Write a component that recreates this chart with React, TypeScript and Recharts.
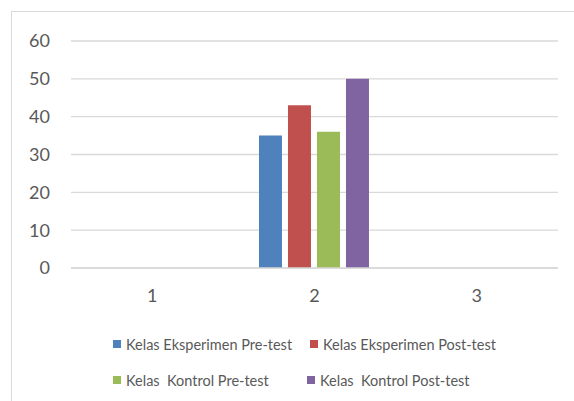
import { BarChart, Bar, XAxis, YAxis, CartesianGrid, Legend } from 'recharts'

const categories = ['1', '2', '3']
const eksperimenPre = [null, 35, null]
const eksperimenPost = [null, 43, null]
const kontrolPre = [null, 36, null]
const kontrolPost = [null, 50, null]
const yTicks = [0, 10, 20, 30, 40, 50, 60]

const seriesNames = [
  'Kelas Eksperimen Pre-test',
  'Kelas Eksperimen Post-test',
  'Kelas  Kontrol Pre-test',
  'Kelas  Kontrol Post-test',
]
const colors = ['#4F81BD', '#C0504D', '#9BBB59', '#8064A2']

const data = categories.map((c, i) => ({
  name: c,
  s0: eksperimenPre[i],
  s1: eksperimenPost[i],
  s2: kontrolPre[i],
  s3: kontrolPost[i],
}))

const FONT = 'Lato, "Open Sans", sans-serif'

function LegendBox() {
  const cols = [113, 310]
  const rows = [344, 380]
  return (
    <div style={{ position: 'relative', width: 574, height: 60 }}>
      {seriesNames.map((name, i) => {
        const left = cols[i % 2] - (i === 3 ? 3 : 0)
        const top = rows[Math.floor(i / 2)] - 330
        return (
          <div
            key={name}
            style={{
              position: 'absolute',
              left,
              top: top - 10,
              height: 20,
              display: 'flex',
              alignItems: 'center',
              whiteSpace: 'pre',
              fontFamily: FONT,
              fontSize: 14.5,
              color: '#595959',
            }}
          >
            <span style={{ width: 8, height: 8, background: colors[i], marginRight: 5 }} />
            {name}
          </div>
        )
      })}
    </div>
  )
}

export default function App() {
  return (
    <div style={{ position: 'absolute', left: 0, top: 0, width: 574, height: 401, overflow: 'hidden', background: '#fff' }}>
      <div
        style={{
          position: 'absolute',
          left: 11,
          top: 11,
          width: 620,
          height: 440,
          border: '1px solid #D9D9D9',
        }}
      />
      <BarChart
        width={574}
        height={401}
        data={data}
        margin={{ top: 41, right: 16, left: 0, bottom: 103 }}
        barCategoryGap="15.8%"
        barGap={6}
      >
        <CartesianGrid vertical={false} stroke="#D9D9D9" strokeWidth={1.3} />
        <XAxis
          dataKey="name"
          height={30}
          axisLine={{ stroke: '#D9D9D9', strokeWidth: 1.3 }}
          tickLine={false}
          tickSize={0}
          tickMargin={21}
          tick={{ fill: '#595959', fontSize: 18, fontFamily: FONT }}
        />
        <YAxis
          width={71}
          domain={[0, 60]}
          ticks={yTicks}
          axisLine={false}
          tickLine={false}
          tickSize={0}
          tickMargin={21}
          tick={{ fill: '#595959', fontSize: 18, fontFamily: FONT }}
        />
        <Legend
          verticalAlign="middle"
          align="center"
          layout="horizontal"
          wrapperStyle={{ top: 330, left: 0, width: 574 }}
          content={() => <LegendBox />}
        />
        {['s0', 's1', 's2', 's3'].map((k, i) => (
          <Bar key={k} dataKey={k} name={seriesNames[i]} fill={colors[i]} isAnimationActive={false} />
        ))}
      </BarChart>
    </div>
  )
}
